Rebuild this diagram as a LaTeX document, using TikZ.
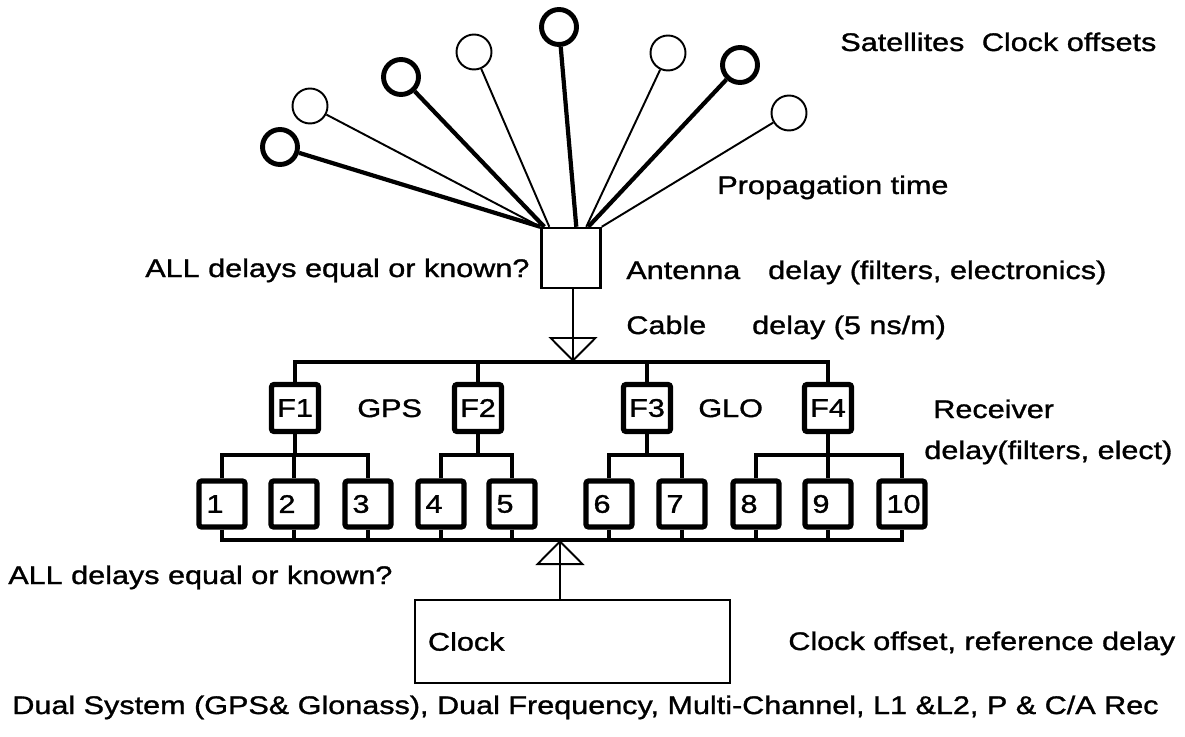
\documentclass[tikz,border=0pt]{standalone}
\usepackage{fontspec}
\setmainfont{Liberation Sans}[FakeStretch=1.2, FakeBold=1.2]
\usetikzlibrary{arrows.meta,calc}

\begin{document}
\begin{tikzpicture}[
  x=0.02cm, y=-0.02cm,
  font=\fontsize{14.5}{17}\selectfont,
  sat/.style={draw, circle, minimum size=0.7cm, inner sep=0pt, line width=1.1pt},
  satb/.style={sat, line width=2.8pt},
  ray/.style={line width=1.1pt},
  rayb/.style={line width=2.4pt},
  fbox/.style={draw, fill=white, line width=3pt, rounded corners=1.5pt, minimum size=0.94cm, inner sep=0pt},
  chbox/.style={draw, fill=white, line width=3pt, rounded corners=1.5pt, minimum height=0.92cm, text width=0.62cm, inner xsep=0.15cm, align=left},
  bus/.style={line width=2.8pt},
  feed/.style={line width=1.1pt},
  tap/.style={line width=1.1pt, -{Triangle[open, length=0.5cm, width=0.98cm, line width=1.1pt]}},
  lbl/.style={anchor=base west, inner sep=0pt}
]
\useasboundingbox (0,0) rectangle (1185,736);

\node[satb] (s1) at (280,147) {};
\node[sat]  (s2) at (310,106) {};
\node[satb] (s3) at (401,77) {};
\node[sat]  (s4) at (474,52) {};
\node[satb] (s5) at (559,27) {};
\node[sat]  (s6) at (668,53) {};
\node[satb] (s7) at (740,65) {};
\node[sat]  (s8) at (789,113) {};
\node[draw, line width=1.4pt, minimum width=1.18cm, minimum height=1.2cm] (ant) at (571,258) {};

\draw[rayb] (s1) -- (ant.north west);
\draw[ray]  (s2) -- (ant.north west);
\draw[rayb] (s3) -- ($(ant.north west)+(4,0)$);
\draw[ray]  (s4) -- ($(ant.north west)+(9,0)$);
\draw[rayb] (s5) -- ($(ant.north west)+(36,0)$);
\draw[ray]  (s6) -- ($(ant.north west)+(46,0)$);
\draw[rayb] (s7) -- ($(ant.north west)+(48,0)$);
\draw[ray]  (s8) -- (ant.north east);

\coordinate (tap1) at (573,362);
\coordinate (sub) at (0,455);
\coordinate (tap2) at (560,540);

\node[fbox] (f1) at (295,408) {F1};
\node[fbox] (f2) at (478,408) {F2};
\node[fbox] (f3) at (647,408) {F3};
\node[fbox] (f4) at (828,408) {F4};

\node[chbox] (c1) at (222,504) {1};
\node[chbox] (c2) at (294,504) {2};
\node[chbox] (c3) at (368,504) {3};
\node[chbox] (c4) at (441,504) {4};
\node[chbox] (c5) at (512,504) {5};
\node[chbox] (c6) at (609,504) {6};
\node[chbox] (c7) at (682,504) {7};
\node[chbox] (c8) at (756,504) {8};
\node[chbox] (c9) at (828,504) {9};
\node[chbox] (c10) at (902,504) {10};

\node[draw, line width=1.1pt, minimum width=6.3cm, minimum height=1.66cm, text width=5.78cm, inner xsep=0.26cm, align=left] (clock) at (572.5,641.5) {Clock};

\draw[feed] (ant.south -| tap1) -- (tap1);
\draw[tap] (ant.south -| tap1) -- (tap1);

\draw[bus] (f1.north) -- (f1.north |- tap1) -- (f4.north |- tap1) -- (f4.north);
\draw[bus] (f2.north) -- (f2.north |- tap1);
\draw[bus] (f3.north) -- (f3.north |- tap1);

\draw[bus] (f1.south) -- (f1.south |- sub);
\draw[bus] (c1.north) -- (c1.north |- sub) -- (c3.north |- sub) -- (c3.north);
\draw[bus] (c2.north) -- (c2.north |- sub);
\draw[bus] (f2.south) -- (f2.south |- sub);
\draw[bus] (c4.north) -- (c4.north |- sub) -- (c5.north |- sub) -- (c5.north);
\draw[bus] (f3.south) -- (f3.south |- sub);
\draw[bus] (c6.north) -- (c6.north |- sub) -- (c7.north |- sub) -- (c7.north);
\draw[bus] (f4.south) -- (f4.south |- sub);
\draw[bus] (c8.north) -- (c8.north |- sub) -- (c10.north |- sub) -- (c10.north);
\draw[bus] (c9.north) -- (c9.north |- sub);

\draw[bus] (c1.south) -- (c1.south |- tap2) -- (c10.south |- tap2) -- (c10.south);
\foreach \i in {2,...,9}
  \draw[bus] (c\i.south) -- (c\i.south |- tap2);

\draw[feed] (clock.north -| tap2) -- (tap2);
\draw[tap] (clock.north -| tap2) -- (tap2);

\node[lbl] (satlbl) at (840,51) {Satellites\hspace{0.35cm}Clock offsets};
\node[lbl] (proplbl) at (717,194) {Propagation time};
\node[lbl] (antq) at (145,277) {ALL delays equal or known?};
\node[lbl] (antlbl) at (626,279) {Antenna\hspace{0.56cm}delay (filters, electronics)};
\node[lbl] (cablbl) at (626,334) {Cable\hspace{0.92cm}delay (5 ns/m)};
\node[lbl] (gps) at (357,417) {GPS};
\node[lbl] (glo) at (698,417) {GLO};
\node[lbl] (rxlbl) at (933,418) {Receiver};
\node[lbl] (rxdel) at (924,459) {delay(filters, elect)};
\node[lbl] (chq) at (8,584) {ALL delays equal or known?};
\node[lbl] (clklbl) at (788,650) {Clock offset, reference delay};
\node[lbl] (title) at (12,714) {Dual System (GPS\& Glonass), Dual Frequency, Multi-Channel, L1 \&L2, P \& C/A Rec};
\end{tikzpicture}
\end{document}
